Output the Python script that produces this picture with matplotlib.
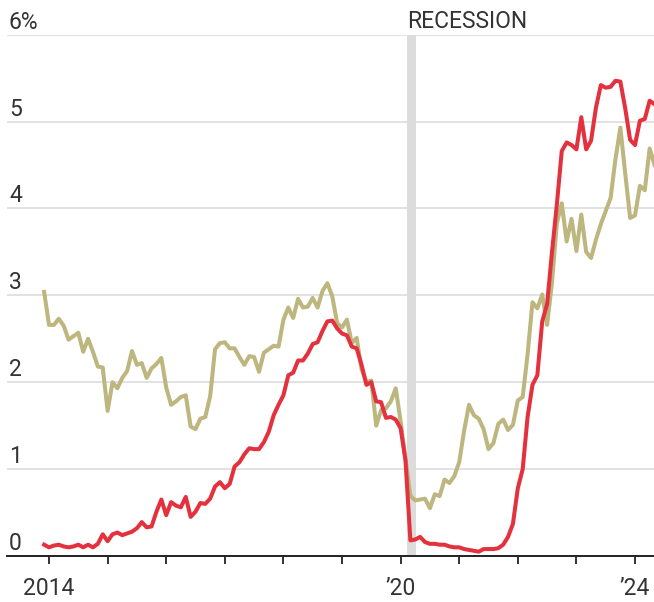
import matplotlib.pyplot as plt
import matplotlib.transforms as mtransforms
import pandas as pd

# month-end yields, Dec 2013 .. May 2024, plotted at the start of each month
months = pd.date_range("2013-12-01", "2024-05-01", freq="MS")

one_year = [
    0.13,
    0.10, 0.12, 0.13, 0.11, 0.10, 0.11, 0.13, 0.10, 0.13, 0.10, 0.14, 0.25,  # 2014
    0.17, 0.25, 0.27, 0.24, 0.26, 0.28, 0.32, 0.39, 0.33, 0.34, 0.51, 0.65,  # 2015
    0.47, 0.62, 0.58, 0.56, 0.68, 0.45, 0.51, 0.61, 0.60, 0.66, 0.80, 0.85,  # 2016
    0.78, 0.83, 1.03, 1.08, 1.17, 1.24, 1.23, 1.23, 1.31, 1.43, 1.62, 1.74,  # 2017
    1.85, 2.08, 2.11, 2.25, 2.25, 2.33, 2.44, 2.46, 2.59, 2.70, 2.71, 2.62,  # 2018
    2.56, 2.54, 2.41, 2.39, 2.20, 1.97, 2.00, 1.78, 1.77, 1.59, 1.60, 1.57,  # 2019
    1.47, 1.10, 0.18, 0.19, 0.22, 0.16, 0.14, 0.14, 0.13, 0.13, 0.11, 0.10,  # 2020
    0.10, 0.08, 0.07, 0.06, 0.05, 0.08, 0.08, 0.08, 0.09, 0.13, 0.22, 0.37,  # 2021
    0.78, 1.00, 1.60, 1.97, 2.08, 2.70, 2.90, 3.50, 4.05, 4.66, 4.76, 4.73,  # 2022
    4.68, 5.05, 4.68, 4.78, 5.16, 5.42, 5.39, 5.40, 5.47, 5.46, 5.15, 4.79,  # 2023
    4.73, 5.01, 5.03, 5.24, 5.20,                                            # 2024
]

ten_year = [
    3.04,
    2.66, 2.66, 2.73, 2.65, 2.49, 2.53, 2.57, 2.35, 2.50, 2.35, 2.18, 2.17,  # 2014
    1.67, 2.00, 1.93, 2.05, 2.13, 2.36, 2.20, 2.22, 2.05, 2.16, 2.21, 2.28,  # 2015
    1.94, 1.74, 1.78, 1.83, 1.85, 1.49, 1.46, 1.58, 1.60, 1.84, 2.38, 2.45,  # 2016
    2.46, 2.39, 2.39, 2.29, 2.20, 2.30, 2.29, 2.12, 2.34, 2.38, 2.42, 2.41,  # 2017
    2.72, 2.86, 2.74, 2.96, 2.86, 2.87, 2.97, 2.86, 3.05, 3.14, 2.99, 2.68,  # 2018
    2.63, 2.72, 2.45, 2.51, 2.15, 2.00, 2.02, 1.50, 1.68, 1.70, 1.78, 1.93,  # 2019
    1.55, 1.12, 0.69, 0.64, 0.65, 0.66, 0.55, 0.71, 0.69, 0.88, 0.84, 0.92,  # 2020
    1.08, 1.44, 1.74, 1.62, 1.58, 1.46, 1.23, 1.30, 1.52, 1.57, 1.45, 1.51,  # 2021
    1.79, 1.83, 2.32, 2.92, 2.85, 3.01, 2.66, 3.15, 3.83, 4.06, 3.62, 3.88,  # 2022
    3.51, 3.93, 3.50, 3.43, 3.64, 3.82, 3.97, 4.12, 4.57, 4.93, 4.40, 3.89,  # 2023
    3.92, 4.26, 4.21, 4.69, 4.50,                                            # 2024
]

recession = (2020.11, 2020.26)
y_ticks = [0, 1, 2, 3, 4, 5, 6]
y_labels = ["0", "1", "2", "3", "4", "5", "6%"]
x_ticks = list(range(2014, 2025))
x_labels = ["2014", "", "", "", "", "", "\u201920", "", "", "", "\u201924"]

RED = "#e3323d"
OLIVE = "#bdb67f"
TEXT = "#333333"
NUM_FONT = ["Roboto", "DejaVu Sans"]
LABEL_FONT = ["Liberation Sans Narrow", "Roboto", "DejaVu Sans"]

x = months.year + (months.month - 1) / 12

fig = plt.figure(figsize=(6.54, 6.02), dpi=100)
ax = fig.add_axes([7 / 654, 1 - 556 / 602, 647 / 654, (556 - 34.7) / 602])

ax.axvspan(*recession, color="#dcdcdc", lw=0, zorder=0.6)
ax.plot(x, ten_year, color=OLIVE, lw=2.9, solid_joinstyle="round", zorder=2)
ax.plot(x, one_year, color=RED, lw=2.9, solid_joinstyle="round", zorder=3)

ax.set_xlim(2013.283, 2024.324)
ax.set_ylim(0, 6)

# gridlines with the labels sitting just above them, inside the plot
ax.set_yticks(y_ticks)
ax.yaxis.grid(True, color="#dadada", lw=1.1)
ax.set_axisbelow(True)
ax.tick_params(axis="y", length=0, labelleft=False)

blend = mtransforms.blended_transform_factory(ax.transAxes, ax.transData)
lift = mtransforms.offset_copy(blend, fig=fig, x=0, y=6, units="dots")
for v, lab in zip(y_ticks, y_labels):
    ax.text(0.003, v, lab, transform=lift, ha="left", va="baseline",
            fontsize=16.5, color=TEXT, family=NUM_FONT)

ax.set_xticks(x_ticks)
ax.set_xticklabels(x_labels, fontsize=16.5, color=TEXT, family=NUM_FONT)
ax.tick_params(axis="x", length=5.8, width=1.3, color="#222222", pad=9)

for side in ["top", "left", "right"]:
    ax.spines[side].set_visible(False)
ax.spines["bottom"].set_color("#222222")
ax.spines["bottom"].set_linewidth(1.4)

rec_tf = mtransforms.offset_copy(ax.transData, fig=fig, x=0, y=7, units="dots")
ax.text(recession[0], 6, "RECESSION", transform=rec_tf, ha="left", va="baseline",
        fontsize=16.5, color=TEXT, family=LABEL_FONT)

fig.savefig("out.png", dpi=100)
